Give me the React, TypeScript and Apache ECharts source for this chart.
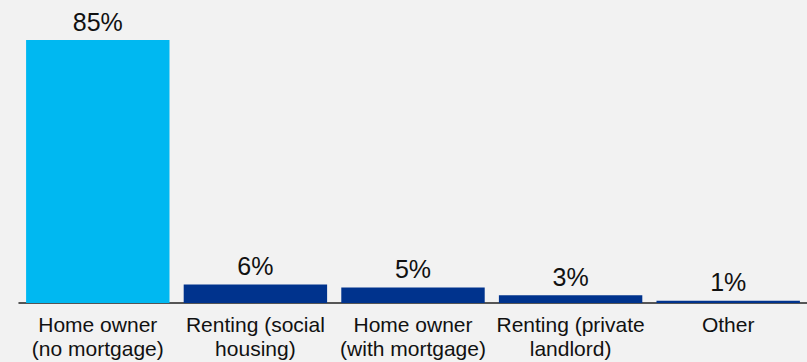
import React, { useEffect, useRef } from "react";
import * as echarts from "echarts";

const categories = [
  "Home owner\n(no mortgage)",
  "Renting (social\nhousing)",
  "Home owner\n(with mortgage)",
  "Renting (private\nlandlord)",
  "Other",
];
const values = [85, 6, 5, 2.5, 0.7];
const labels = ["85%", "6%", "5%", "3%", "1%"];
const colors = ["#00B8F1", "#00338D", "#00338D", "#00338D", "#00338D"];

export default function App() {
  const ref = useRef<HTMLDivElement>(null);
  useEffect(() => {
    if (!ref.current) return;
    const chart = echarts.init(ref.current, undefined, { renderer: "svg" });
    chart.setOption({
      animation: false,
      backgroundColor: "#F2F2F2",
      grid: { left: 19, right: -3, top: 40, bottom: 59, containLabel: false },
      xAxis: {
        type: "category",
        data: categories,
        axisLine: { show: true, lineStyle: { color: "#222", width: 1.5 } },
        axisTick: { show: false },
        axisLabel: {
          interval: 0,
          margin: 9,
          color: "#111",
          fontFamily: "Liberation Sans, Arial, sans-serif",
          fontSize: 21,
          lineHeight: 24,
        },
      },
      yAxis: { type: "value", min: 0, max: 85, show: false, splitLine: { show: false } },
      series: [
        {
          type: "bar",
          data: values.map((v, i) => ({ value: v, itemStyle: { color: colors[i] } })),
          barCategoryGap: "9%",
          label: {
            show: true,
            position: "top",
            distance: 6,
            color: "#111",
            fontFamily: "Liberation Sans, Arial, sans-serif",
            fontSize: 25,
            formatter: (p: any) => labels[p.dataIndex],
          },
        },
      ],
    });
    return () => chart.dispose();
  }, []);
  return (
    <div
      ref={ref}
      style={{ position: "absolute", left: 0, top: 0, width: 807, height: 362, background: "#F2F2F2" }}
    />
  );
}
